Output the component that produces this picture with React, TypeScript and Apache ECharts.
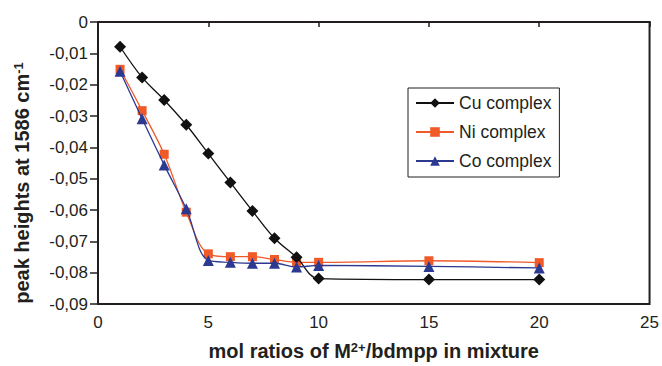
import React, { useEffect, useRef } from "react";
import * as echarts from "echarts";

const ratios = [1, 2, 3, 4, 5, 6, 7, 8, 9, 10, 15, 20];
const cuValues = [-0.0079, -0.0177, -0.0249, -0.0328, -0.042, -0.0512, -0.0603, -0.069, -0.0751, -0.0819, -0.0822, -0.0822];
const niValues = [-0.0151, -0.0283, -0.0422, -0.0607, -0.074, -0.0749, -0.0749, -0.0758, -0.0767, -0.0767, -0.0762, -0.0768];
const coValues = [-0.0157, -0.0309, -0.0456, -0.0596, -0.0761, -0.0767, -0.077, -0.077, -0.0782, -0.0777, -0.078, -0.0785];
const seriesNames = ["Cu complex", "Ni complex", "Co complex"];

const INK = "#231f20";
const FONT = "Liberation Sans, Arial, sans-serif";

function pairs(vals: number[]) {
  return ratios.map((r, i) => [r, vals[i]]);
}

const richSup = {
  sup: { fontSize: 13, fontWeight: "bold", verticalAlign: "top", color: INK, fontFamily: FONT },
};

export default function App() {
  const ref = useRef<HTMLDivElement>(null);
  useEffect(() => {
    if (!ref.current) return;
    const chart = echarts.init(ref.current, undefined, { renderer: "svg" });
    chart.setOption({
      animation: false,
      backgroundColor: "#fff",
      textStyle: { fontFamily: FONT },
      grid: {
        left: 98,
        right: 12,
        top: 22,
        bottom: 59,
        show: true,
        borderColor: INK,
        borderWidth: 2,
        backgroundColor: "transparent",
      },
      legend: {
        orient: "vertical",
        left: 408,
        top: 88,
        data: seriesNames,
        borderColor: INK,
        borderWidth: 1,
        padding: [6, 8, 7, 7],
        itemWidth: 38,
        itemHeight: 12,
        itemGap: 11,
        textStyle: { fontSize: 17.5, color: INK, fontFamily: FONT },
      },
      xAxis: [
        {
          type: "value",
          min: 0,
          max: 25,
          interval: 5,
          position: "bottom",
          axisLine: { show: true, lineStyle: { color: INK, width: 2 } },
          axisTick: { show: false },
          splitLine: { show: false },
          axisLabel: { fontSize: 17, color: INK, margin: 10, fontFamily: FONT },
          name: "mol ratios of M{sup|2+}/bdmpp in mixture",
          nameLocation: "middle",
          nameGap: 37,
          nameTextStyle: {
            fontSize: 20,
            fontWeight: "bold",
            color: INK,
            fontFamily: FONT,
            rich: richSup,
          },
        },
        {
          type: "value",
          min: 0,
          max: 25,
          interval: 5,
          position: "top",
          axisLine: { show: true, lineStyle: { color: INK, width: 2 } },
          axisTick: { show: true, inside: true, length: 5, lineStyle: { color: INK, width: 1.5 } },
          axisLabel: { show: false },
          splitLine: { show: false },
        },
      ],
      yAxis: {
        type: "value",
        min: -0.09,
        max: 0,
        interval: 0.01,
        axisLine: { show: true, lineStyle: { color: INK, width: 2 } },
        axisTick: { show: true, inside: false, length: 8, lineStyle: { color: INK, width: 1.5 } },
        splitLine: { show: false },
        axisLabel: {
          fontSize: 17,
          color: INK,
          margin: 10,
          fontFamily: FONT,
          formatter: (v: number) => (Math.abs(v) < 1e-9 ? "0" : v.toFixed(2).replace(".", ",")),
        },
        name: "peak heights at 1586 cm{sup|-1}",
        nameLocation: "middle",
        nameGap: 66,
        nameTextStyle: {
          fontSize: 20,
          fontWeight: "bold",
          color: INK,
          fontFamily: FONT,
          padding: [0, 40, 0, 0],
          rich: richSup,
        },
      },
      series: [
        {
          name: seriesNames[0],
          type: "line",
          data: pairs(cuValues),
          smooth: 0.35,
          symbol: "diamond",
          symbolSize: 12,
          itemStyle: { color: "#111" },
          lineStyle: { color: "#111", width: 1.3 },
          z: 3,
        },
        {
          name: seriesNames[1],
          type: "line",
          data: pairs(niValues),
          smooth: 0.35,
          symbol: "rect",
          symbolSize: 9,
          itemStyle: { color: "#f05a28" },
          lineStyle: { color: "#f05a28", width: 1.3 },
          z: 2,
        },
        {
          name: seriesNames[2],
          type: "line",
          data: pairs(coValues),
          smooth: 0.35,
          symbol: "triangle",
          symbolSize: 11,
          itemStyle: { color: "#2b3990" },
          lineStyle: { color: "#2b3990", width: 1.3 },
          z: 4,
        },
      ],
    });
    return () => chart.dispose();
  }, []);
  return <div ref={ref} style={{ width: 662, height: 366, position: "absolute", left: 0, top: 0 }} />;
}
